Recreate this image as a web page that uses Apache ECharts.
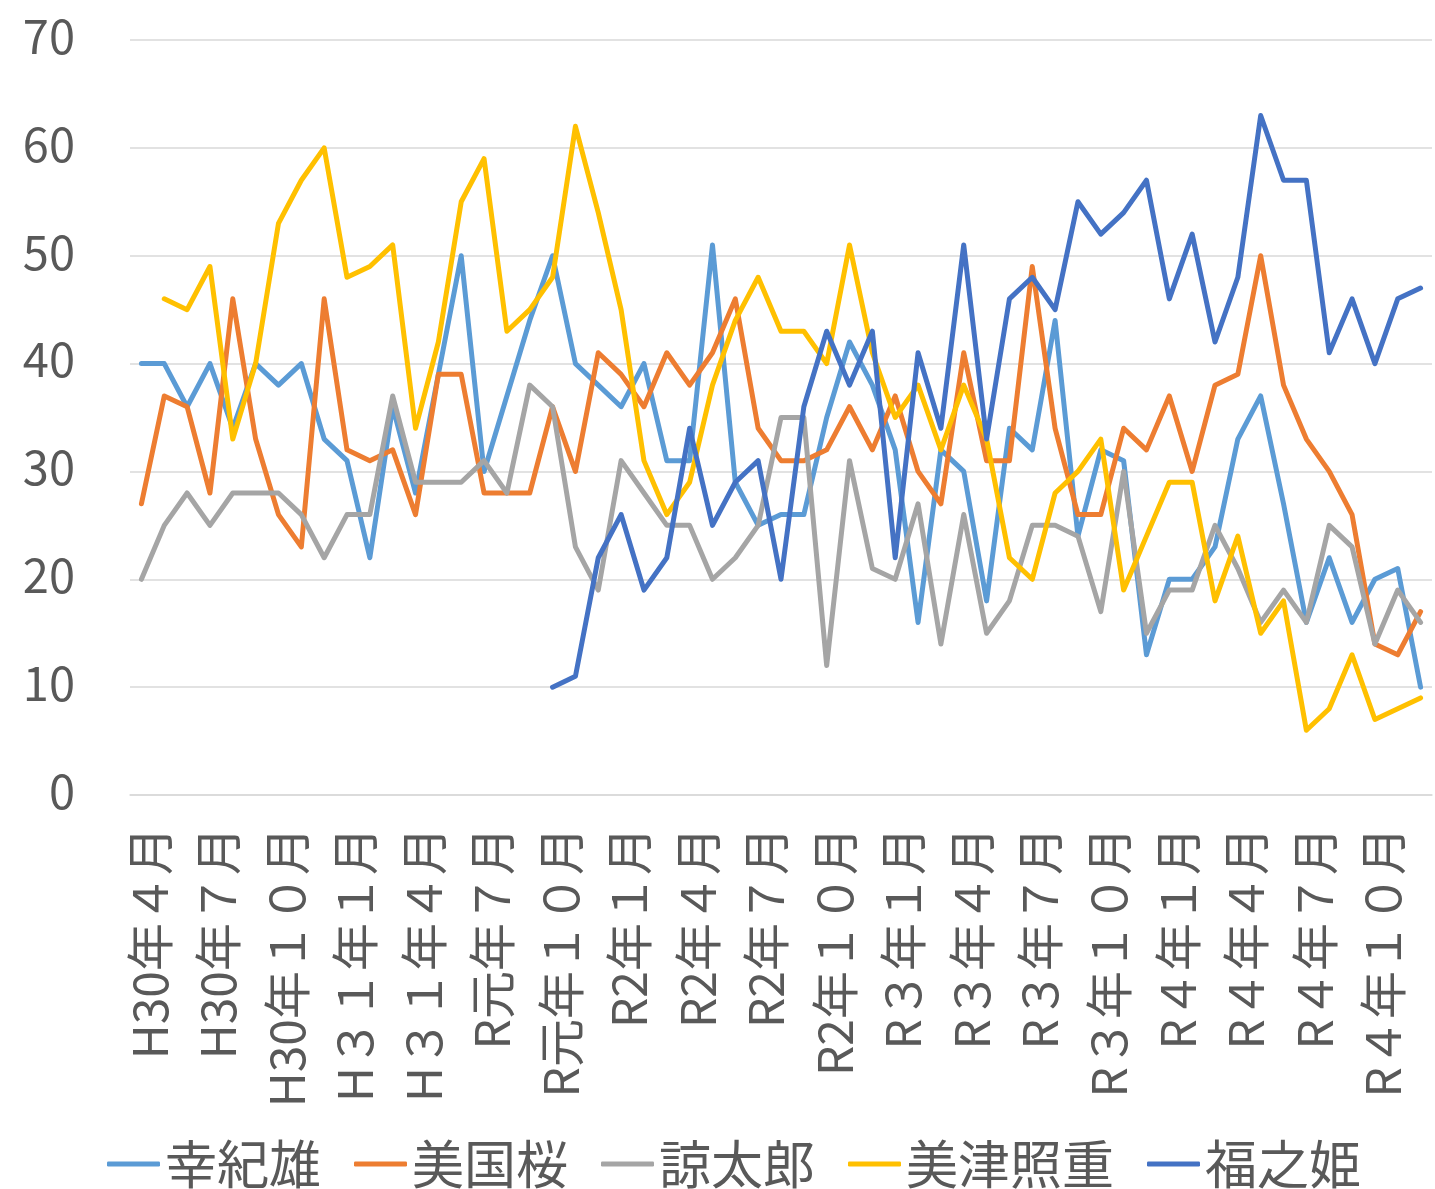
<!DOCTYPE html>
<html>
<head>
<meta charset="utf-8">
<script src="https://cdn.jsdelivr.net/npm/echarts@6/dist/echarts.min.js"></script>
<style>
html,body{margin:0;padding:0;background:#fff;}
#chart{width:1435px;height:1189px;}
</style>
</head>
<body>
<div id="chart"></div>
<script>
var categories = [
  "H30年４月","H30年５月","H30年６月","H30年７月","H30年８月","H30年９月","H30年１０月","H30年１１月","H30年１２月",
  "H３１年１月","H３１年２月","H３１年３月","H３１年４月",
  "R元年５月","R元年６月","R元年７月","R元年８月","R元年９月","R元年１０月","R元年１１月","R元年１２月",
  "R2年１月","R2年２月","R2年３月","R2年４月","R2年５月","R2年６月","R2年７月","R2年８月","R2年９月","R2年１０月","R2年１１月","R2年１２月",
  "R３年１月","R３年２月","R３年３月","R３年４月","R３年５月","R３年６月","R３年７月","R３年８月","R３年９月","R３年１０月","R３年１１月","R３年１２月",
  "R４年１月","R４年２月","R４年３月","R４年４月","R４年５月","R４年６月","R４年７月","R４年８月","R４年９月","R４年１０月","R４年１１月","R４年１２月"
];
var seriesNames = ["幸紀雄","美国桜","諒太郎","美津照重","福之姫"];
var seriesColors = ["#5B9BD5","#ED7D31","#A5A5A5","#FFC000","#4472C4"];

var kokio = [40,40,36,40,34,40,38,40,33,31, 22,36,28,39,50,30,37,44,50,40, 38,36,40,31,31,51,29,25,26,26, 35,42,38,32,16,32,30,18,34,32, 44,24,32,31,13,20,20,23,33,37, 27,16,22,16,20,21,10];
var bikokuzakura = [27,37,36,28,46,33,26,23,46,32, 31,32,26,39,39,28,28,28,36,30, 41,39,36,41,38,41,46,34,31,31, 32,36,32,37,30,27,41,31,31,49, 34,26,26,34,32,37,30,38,39,50, 38,33,30,26,14,13,17];
var ryotaro = [20,25,28,25,28,28,28,26,22,26, 26,37,29,29,29,31,28,38,36,23, 19,31,28,25,25,20,22,25,35,35, 12,31,21,20,27,14,26,15,18,25, 25,24,17,30,15,19,19,25,21,16, 19,16,25,23,14,19,16];
var mitsuteruShige = [null,46,45,49,33,40,53,57,60,48, 49,51,34,42,55,59,43,45,48,62, 54,45,31,26,29,38,44,48,43,43, 40,51,41,35,38,32,38,33,22,20, 28,30,33,19,24,29,29,18,24,15, 18,6,8,13,7,8,9];
var fukunohime = [null,null,null,null,null,null,null,null,null,null, null,null,null,null,null,null,null,null,10,11, 22,26,19,22,34,25,29,31,20,36, 43,38,43,22,41,34,51,33,46,48, 45,55,52,54,57,46,52,42,48,63, 57,57,41,46,40,46,47];
var yTicks = {min:0, max:70, interval:10};

var dataList = [kokio, bikokuzakura, ryotaro, mitsuteruShige, fukunohime];
var FONT = '"Noto Sans CJK JP", "Noto Sans", sans-serif';

var chart = echarts.init(document.getElementById('chart'), null, {renderer:'canvas'});
chart.setOption({
  animation:false,
  color: seriesColors,
  grid:{left:130, right:3, top:40, bottom:394, containLabel:false},
  legend:{
    data: seriesNames,
    left:102, top:1133,
    icon:'roundRect', itemWidth:53, itemHeight:5, itemGap:33,
    textStyle:{fontSize:52, color:'#595959', fontFamily:FONT}
  },
  xAxis:{
    type:'category', data:categories, boundaryGap:true,
    axisTick:{show:false},
    axisLine:{lineStyle:{color:'#D9D9D9', width:1.5}},
    axisLabel:{interval:2, rotate:90, fontSize:48, margin:32, color:'#595959', fontFamily:FONT,
               verticalAlign:'top', lineHeight:16}
  },
  yAxis:{
    type:'value', min:yTicks.min, max:yTicks.max, interval:yTicks.interval,
    axisLine:{show:false}, axisTick:{show:false},
    splitLine:{lineStyle:{color:'#D9D9D9', width:1.5}},
    axisLabel:{fontSize:47, margin:55, color:'#595959', fontFamily:FONT,
               verticalAlign:'bottom', lineHeight:8}
  },
  series: seriesNames.map(function(n,i){
    return {
      name:n, type:'line', data:dataList[i], symbol:'none', showSymbol:false,
      connectNulls:false,
      lineStyle:{width:5, color:seriesColors[i], cap:'round', join:'round'},
      itemStyle:{color:seriesColors[i]},
      emphasis:{disabled:true}
    };
  })
});
</script>
</body>
</html>
